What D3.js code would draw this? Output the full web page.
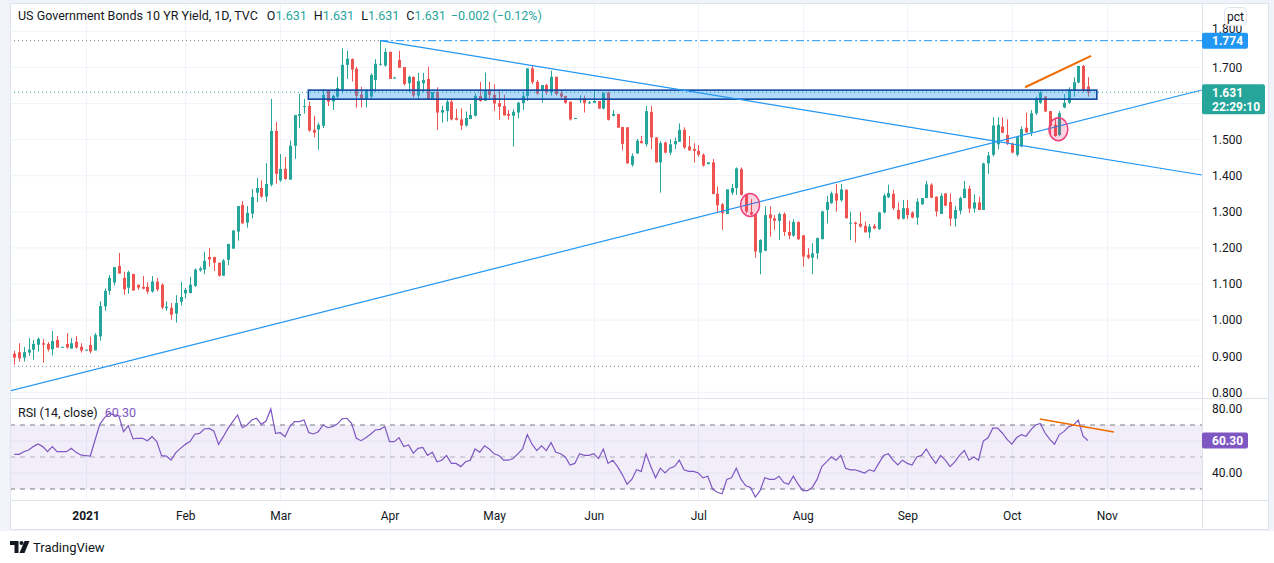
<!DOCTYPE html>
<html>
<head>
<meta charset="utf-8">
<script src="https://cdn.jsdelivr.net/npm/d3@7"></script>
<style>
  body { margin: 0; background: #fff; }
  svg { display: block; font-family: Roboto, "Open Sans", sans-serif; }
</style>
</head>
<body>
<div id="chart"></div>
<script>
// daily candles, mid Dec 2020 -> 22 Oct 2021
const opens = [
  .907,.911,.896,.910,.918,.932,.936,.934,.919,.945, .924,.934,.921,.940,.926,.917,.931,.916,.955,1.038,
  1.081,1.104,1.150,1.117,1.090,1.128,1.098,1.092,1.092,1.079, 1.107,1.098,1.033,1.034,1.018,1.051,1.074,1.075,1.095,1.138,
  1.140,1.175,1.175,1.159,1.123,1.167,1.198,1.245,1.319,1.270, 1.295,1.353,1.366,1.342,1.375,1.524,1.387,1.419,1.389,1.483,
  1.566,1.591,1.593,1.527,1.528,1.538,1.635,1.606,1.619,1.639, 1.707,1.723,1.696,1.625,1.610,1.619,1.665,1.708,1.705,1.743,
  1.670,1.721,1.701,1.656,1.674,1.622,1.656,1.668,1.613,1.632, 1.575,1.579,1.605,1.560,1.556,1.539,1.557,1.566,1.621,1.608,
  1.637,1.624,1.601,1.593,1.571,1.566,1.575,1.601,1.621,1.697, 1.660,1.637,1.651,1.631,1.674,1.628,1.621,1.605,1.558,1.609,
  1.614,1.602,1.602,1.607,1.586,1.630,1.566,1.571,1.535,1.534, 1.430,1.462,1.496,1.487,1.577,1.506,1.437,1.492,1.464,1.487,
  1.494,1.527,1.481,1.474,1.469,1.458,1.432,1.437,1.350,1.321, 1.294,1.353,1.366,1.418,1.347,1.299,1.293,1.187,1.192,1.293,
  1.282,1.275,1.294,1.244,1.234,1.272,1.235,1.181,1.173,1.185, 1.224,1.305,1.324,1.351,1.332,1.361,1.268,1.270,1.267,1.261,
  1.243,1.261,1.252,1.298,1.340,1.350,1.305,1.281,1.310,1.298, 1.284,1.321,1.338,1.375,1.342,1.294,1.351,1.327,1.281,1.303,
  1.338,1.364,1.309,1.326,1.305,1.434,1.458,1.487,1.536,1.513, 1.488,1.458,1.481,1.533,1.520,1.573,1.602,1.619,1.579,1.541,
  1.513,1.589,1.602,1.637,1.658,1.704,1.647
];
const highs = [
  .915,.936,.926,.950,.945,.952,.947,.939,.970,.956, .926,.964,.950,.956,.936,.918,.954,.964,1.052,1.087,
  1.125,1.147,1.186,1.134,1.137,1.128,1.098,1.122,1.105,1.122, 1.117,1.102,1.052,1.047,1.069,1.106,1.089,1.120,1.143,1.148,
  1.189,1.200,1.175,1.159,1.169,1.211,1.250,1.316,1.330,1.316, 1.363,1.394,1.387,1.435,1.613,1.549,1.460,1.452,1.497,1.568,
  1.627,1.613,1.605,1.566,1.547,1.640,1.638,1.624,1.674,1.753, 1.746,1.725,1.702,1.646,1.640,1.684,1.723,1.774,1.753,1.743,
  1.674,1.746,1.701,1.677,1.674,1.685,1.685,1.702,1.632,1.645, 1.594,1.613,1.613,1.585,1.587,1.578,1.599,1.628,1.660,1.686,
  1.660,1.653,1.634,1.624,1.582,1.584,1.605,1.632,1.698,1.706, 1.665,1.651,1.654,1.691,1.674,1.635,1.621,1.605,1.560,1.623,
  1.622,1.607,1.639,1.607,1.630,1.633,1.582,1.571,1.535,1.534, 1.462,1.502,1.510,1.593,1.593,1.506,1.496,1.494,1.501,1.506,
  1.545,1.534,1.510,1.490,1.485,1.462,1.437,1.446,1.370,1.324, 1.362,1.377,1.423,1.423,1.350,1.335,1.293,1.224,1.315,1.315,
  1.291,1.298,1.298,1.275,1.279,1.273,1.235,1.199,1.213,1.229, 1.303,1.344,1.356,1.377,1.377,1.362,1.300,1.273,1.300,1.273,
  1.266,1.266,1.300,1.350,1.375,1.361,1.326,1.333,1.333,1.301, 1.337,1.338,1.386,1.379,1.342,1.351,1.351,1.351,1.316,1.342,
  1.386,1.372,1.349,1.342,1.436,1.466,1.562,1.562,1.562,1.556, 1.492,1.508,1.536,1.575,1.582,1.619,1.635,1.621,1.579,1.559,
  1.579,1.626,1.645,1.673,1.704,1.707,1.673
];
const lows = [
  .876,.885,.885,.901,.890,.913,.882,.913,.902,.924, .924,.921,.921,.921,.910,.916,.908,.916,.943,1.026,
  1.070,1.096,1.129,1.070,1.073,1.082,1.084,1.085,1.073,1.076, 1.080,1.030,1.026,1.001,.993,1.040,1.060,1.074,1.092,1.134,
  1.127,1.148,1.136,1.120,1.123,1.152,1.198,1.220,1.267,1.256, 1.282,1.327,1.339,1.328,1.370,1.378,1.383,1.389,1.389,1.447,
  1.532,1.572,1.522,1.506,1.472,1.532,1.593,1.582,1.614,1.628, 1.668,1.661,1.589,1.589,1.589,1.614,1.632,1.705,1.702,1.668,
  1.669,1.699,1.650,1.631,1.616,1.614,1.631,1.613,1.613,1.527, 1.547,1.550,1.553,1.553,1.527,1.536,1.557,1.564,1.605,1.607,
  1.613,1.579,1.555,1.567,1.555,1.481,1.559,1.582,1.607,1.654, 1.624,1.602,1.624,1.622,1.622,1.614,1.599,1.553,1.557,1.601,
  1.575,1.599,1.601,1.586,1.584,1.553,1.564,1.533,1.470,1.434, 1.425,1.460,1.490,1.481,1.473,1.436,1.353,1.462,1.457,1.474,
  1.494,1.474,1.470,1.436,1.453,1.425,1.432,1.349,1.296,1.250, 1.293,1.347,1.347,1.345,1.296,1.290,1.173,1.127,1.192,1.231,
  1.250,1.222,1.233,1.224,1.231,1.222,1.148,1.169,1.127,1.169, 1.224,1.268,1.322,1.301,1.328,1.282,1.222,1.215,1.256,1.243,
  1.227,1.252,1.250,1.296,1.338,1.305,1.278,1.279,1.280,1.282, 1.264,1.319,1.338,1.338,1.287,1.294,1.316,1.261,1.259,1.293,
  1.338,1.296,1.298,1.305,1.305,1.405,1.453,1.473,1.518,1.485, 1.462,1.453,1.479,1.518,1.510,1.568,1.599,1.576,1.508,1.508,
  1.510,1.587,1.599,1.619,1.656,1.631,1.619
];
const closes = [
  .896,.894,.911,.918,.934,.948,.932,.919,.942,.924, .926,.924,.936,.924,.916,.918,.913,.959,1.039,1.081,
  1.117,1.147,1.129,1.085,1.133,1.082,1.090,1.087,1.079,1.107, 1.085,1.035,1.037,1.015,1.047,1.064,1.084,1.098,1.140,1.143,
  1.164,1.168,1.159,1.123,1.165,1.211,1.248,1.316,1.268,1.297, 1.341,1.366,1.342,1.377,1.524,1.405,1.419,1.391,1.483,1.568,
  1.571,1.593,1.525,1.519,1.541,1.624,1.605,1.621,1.643,1.707, 1.724,1.694,1.621,1.614,1.637,1.679,1.710,1.710,1.743,1.668,
  1.672,1.699,1.654,1.674,1.622,1.662,1.665,1.613,1.632,1.575, 1.582,1.605,1.556,1.555,1.539,1.560,1.568,1.621,1.607,1.637,
  1.624,1.600,1.591,1.567,1.566,1.577,1.602,1.621,1.697,1.659, 1.628,1.651,1.631,1.674,1.626,1.619,1.602,1.556,1.560,1.612,
  1.601,1.603,1.607,1.586,1.630,1.555,1.571,1.533,1.488,1.434, 1.455,1.497,1.490,1.579,1.506,1.437,1.490,1.464,1.487,1.496,
  1.527,1.478,1.470,1.469,1.458,1.428,1.437,1.349,1.318,1.296, 1.362,1.366,1.420,1.347,1.301,1.293,1.190,1.222,1.291,1.282,
  1.275,1.294,1.244,1.234,1.272,1.224,1.176,1.173,1.185,1.227, 1.301,1.327,1.351,1.331,1.362,1.282,1.270,1.266,1.259,1.243,
  1.259,1.254,1.298,1.345,1.352,1.310,1.281,1.310,1.291,1.284, 1.328,1.338,1.376,1.339,1.301,1.344,1.317,1.281,1.305,1.338,
  1.364,1.309,1.326,1.305,1.434,1.456,1.539,1.541,1.519,1.490, 1.464,1.507,1.529,1.520,1.573,1.614,1.630,1.578,1.538,1.510,
  1.573,1.602,1.639,1.659,1.704,1.635,1.631
];
const rsi = [
  51.7,51.7,53.3,54.4,56.5,58.1,56.5,53.3,56.5,53.3, 53.3,53.3,55.4,52.9,51.3,50.8,50.6,60.6,70.4,74.6,
  77.3,76.3,75.8,65.8,69.6,61.3,61.7,61.7,60.2,62.7, 59.6,50.8,50.6,48.1,52.7,55.4,57.9,59.6,64.2,64.8,
  67.5,67.9,66.3,57.9,62.7,67.9,72.1,76.3,68.3,70.0, 73.1,74.2,70.4,72.5,80.0,64.8,65.2,62.7,69.0,72.1,
  72.1,73.1,65.2,64.4,65.8,70.0,68.3,69.0,70.6,73.8, 74.2,71.0,61.7,60.2,62.1,64.2,66.9,67.3,69.0,59.6,
  59.6,62.1,56.5,57.5,52.3,55.4,56,51,53,47, 48,51,46,46,44,47,48,55,53,57,
  55,52,51,48,48,49,52,55,64,58, 54,57,54,59,53,52,50,45,46,52,
  51,51,52,49,55,46,48,44,39,33, 36,42,41,52,44,37,43,40,43,44,
  48,42,41,41,40,37,38,30,28,27, 36,37,43,36,32,31,25,29,37,36,
  36,38,34,33,38,33,29,29,31,36, 44,47,50,48,51,43,42,42,41,40,
  42,41,46,51,52,48,45,48,46,45, 50,51,55,50,46,51,48,44,47,51,
  54,48,50,48,60,62,68,68,65,61, 58,62,64,63,67,70,71,65,61,58,
  64,66,69,70,73,63,60.3
];

const monthLabels = ["2021", "Feb", "Mar", "Apr", "May", "Jun", "Jul", "Aug", "Sep", "Oct", "Nov"];
const monthIdx = [15, 36, 56, 79, 101, 122, 144, 166, 188, 210, 230];
const priceTicks = [0.8, 0.9, 1.0, 1.1, 1.2, 1.3, 1.4, 1.5, 1.6, 1.7, 1.8];
// 1.600 sits under the last-price tag, so it gets no label
const priceLabels = [0.8, 0.9, 1.0, 1.1, 1.2, 1.3, 1.4, 1.5, 1.7, 1.8];
const rsiTicks = [40, 80];
const rsiGrid = [20, 40, 60, 80];

// drawings on the chart: [index, value]
const highLevel = 1.774, highIdx = 77;
const lowLevel = 0.872;
const lastPrice = 1.631;
const downTrend = [[77, 1.774], [250, 1.402]];
const upTrend = [[-1, 0.8036], [250, 1.6374]];
const zone = {i0: 61.9, i1: 227.9, top: 1.637, bottom: 1.612};
const orangePrice = [[212.8, 1.645], [226.7, 1.732]];
const orangeRsi = [[215.9, 73.8], [231.5, 65.6]];
const circles = [[154.9, 1.319], [219.8, 1.529]];

const W = 1274, H = 563;
const paneL = 10, paneR = 1202, axisR = 1268;
const mainT = 3, mainB = 398, rsiT = 399, rsiB = 500, timeB = 529;

const x = d3.scaleLinear().domain([0, 226]).range([14.3, 1087.8]);
const y = d3.scaleLinear().domain([0.8, 1.8]).range([392.3, 31.3]);
const yr = d3.scaleLinear().domain([30, 80]).range([489, 409]);

const up = "#26a69a", down = "#ef5350", blue = "#2196f3", purple = "#7e57c2", orange = "#ef6c00";
const text = "#131722", grid = "#f0f3fa", border = "#e0e3eb";

const svg = d3.select("#chart").append("svg").attr("width", W).attr("height", H);

// frame
svg.append("rect").attr("width", W).attr("height", timeB + 2).attr("fill", grid);
svg.append("rect").attr("x", paneL).attr("y", mainT).attr("width", axisR - paneL).attr("height", timeB - mainT)
  .attr("fill", "#fff");

const defs = svg.append("defs");
defs.append("clipPath").attr("id", "clipMain").append("rect")
  .attr("x", paneL).attr("y", mainT).attr("width", paneR - paneL).attr("height", mainB - mainT);
defs.append("clipPath").attr("id", "clipRsi").append("rect")
  .attr("x", paneL).attr("y", rsiT).attr("width", paneR - paneL).attr("height", rsiB - rsiT);

const main = svg.append("g").attr("clip-path", "url(#clipMain)");
const low = svg.append("g").attr("clip-path", "url(#clipRsi)");

// grid
main.selectAll(".hg").data(priceTicks).join("line")
  .attr("x1", paneL).attr("x2", paneR).attr("y1", d => y(d)).attr("y2", d => y(d))
  .attr("stroke", grid);
low.selectAll(".hg").data(rsiGrid).join("line")
  .attr("x1", paneL).attr("x2", paneR).attr("y1", d => yr(d)).attr("y2", d => yr(d))
  .attr("stroke", grid);
[main, low].forEach(g => g.selectAll(".vg").data(monthIdx).join("line")
  .attr("x1", d => Math.round(x(d)) + 0.5).attr("x2", d => Math.round(x(d)) + 0.5)
  .attr("y1", mainT).attr("y2", rsiB).attr("stroke", grid));

// level lines
main.append("line").attr("x1", paneL).attr("x2", paneR).attr("y1", y(lowLevel)).attr("y2", y(lowLevel))
  .attr("stroke", "#787b86").attr("stroke-dasharray", "1,3");
main.append("line").attr("x1", paneL).attr("x2", x(highIdx)).attr("y1", y(highLevel)).attr("y2", y(highLevel))
  .attr("stroke", "#787b86").attr("stroke-dasharray", "1,3");
main.append("line").attr("x1", x(highIdx)).attr("x2", paneR).attr("y1", y(highLevel)).attr("y2", y(highLevel))
  .attr("stroke", blue).attr("stroke-dasharray", "8,3,2,3");
main.append("line").attr("x1", paneL).attr("x2", paneR).attr("y1", y(lastPrice)).attr("y2", y(lastPrice))
  .attr("stroke", up).attr("stroke-dasharray", "1,3");

// candles
const idx = d3.range(closes.length);
main.selectAll(".wick").data(idx).join("line")
  .attr("x1", i => Math.round(x(i)) + 0.5).attr("x2", i => Math.round(x(i)) + 0.5)
  .attr("y1", i => y(highs[i])).attr("y2", i => y(lows[i]))
  .attr("stroke", i => closes[i] >= opens[i] ? up : down);
main.selectAll(".body").data(idx).join("rect")
  .attr("x", i => Math.round(x(i)) - 1).attr("width", 3)
  .attr("y", i => y(Math.max(opens[i], closes[i])))
  .attr("height", i => Math.max(1, Math.abs(y(opens[i]) - y(closes[i]))))
  .attr("fill", i => closes[i] >= opens[i] ? up : down);

// zone
main.append("rect")
  .attr("x", x(zone.i0)).attr("width", x(zone.i1) - x(zone.i0))
  .attr("y", y(zone.top)).attr("height", y(zone.bottom) - y(zone.top))
  .attr("fill", "rgba(33,150,243,0.35)").attr("stroke", "#0d47a1").attr("stroke-width", 1.6);

// trend lines
const seg = (sc) => d3.line().x(d => x(d[0])).y(d => sc(d[1]));
main.append("path").attr("d", seg(y)(downTrend)).attr("stroke", blue).attr("fill", "none").attr("stroke-width", 1.2);
main.append("path").attr("d", seg(y)(upTrend)).attr("stroke", blue).attr("fill", "none").attr("stroke-width", 1.2);
main.append("path").attr("d", seg(y)(orangePrice)).attr("stroke", orange).attr("fill", "none").attr("stroke-width", 2);

main.selectAll(".circ").data(circles).join("ellipse")
  .attr("cx", d => x(d[0])).attr("cy", d => y(d[1])).attr("rx", 9.5).attr("ry", 11.5)
  .attr("fill", "rgba(233,30,99,0.2)").attr("stroke", "#ec407a").attr("stroke-width", 1.5);

// rsi pane
low.append("rect").attr("x", paneL).attr("width", paneR - paneL)
  .attr("y", yr(70)).attr("height", yr(30) - yr(70)).attr("fill", "rgba(126,87,194,0.1)");
low.selectAll(".band").data([70, 30]).join("line")
  .attr("x1", paneL).attr("x2", paneR).attr("y1", d => yr(d)).attr("y2", d => yr(d))
  .attr("stroke", "#787b86").attr("stroke-dasharray", "5,5");
low.append("line").attr("x1", paneL).attr("x2", paneR).attr("y1", yr(50)).attr("y2", yr(50))
  .attr("stroke", "rgba(120,123,134,0.55)").attr("stroke-dasharray", "5,5");
low.append("path").datum(idx).attr("d", d3.line().x(i => x(i)).y(i => yr(rsi[i])))
  .attr("fill", "none").attr("stroke", purple).attr("stroke-width", 1.2);
low.append("path").attr("d", seg(yr)(orangeRsi)).attr("stroke", orange).attr("fill", "none").attr("stroke-width", 1.6);

// separators
svg.append("line").attr("x1", paneR + 0.5).attr("x2", paneR + 0.5).attr("y1", mainT).attr("y2", timeB).attr("stroke", border);
svg.append("line").attr("x1", paneL).attr("x2", axisR).attr("y1", mainB + 0.5).attr("y2", mainB + 0.5).attr("stroke", border);
svg.append("line").attr("x1", paneL).attr("x2", axisR).attr("y1", rsiB + 0.5).attr("y2", rsiB + 0.5).attr("stroke", border);
svg.append("rect").attr("x", paneL + 0.5).attr("y", mainT + 0.5).attr("width", axisR - paneL).attr("height", timeB - mainT)
  .attr("fill", "none").attr("stroke", border);

// axes
const yAxis = svg.append("g").attr("transform", `translate(${paneR},0)`)
  .call(d3.axisRight(y).tickValues(priceLabels).tickFormat(d3.format(".3f")).tickSize(0).tickPadding(10));
const rAxis = svg.append("g").attr("transform", `translate(${paneR},0)`)
  .call(d3.axisRight(yr).tickValues(rsiTicks).tickFormat(d3.format(".2f")).tickSize(0).tickPadding(10));
const xAxis = svg.append("g").attr("transform", `translate(0,${rsiB})`)
  .call(d3.axisBottom(x).tickValues(monthIdx).tickFormat((d, i) => monthLabels[i]).tickSize(0).tickPadding(11));
[yAxis, rAxis, xAxis].forEach(a => {
  a.select(".domain").remove();
  a.selectAll("text").attr("fill", text).attr("font-size", 12).attr("font-family", "Roboto, sans-serif");
});
xAxis.selectAll("text").filter((d, i) => i === 0).attr("font-weight", "bold");
// 1.800 peeks out above the 1.774 tag
yAxis.selectAll("text").filter(d => d === 1.8).attr("dy", "0.1em");

// price labels
svg.append("rect").attr("x", 1224.5).attr("y", 7.5).attr("width", 22).attr("height", 18).attr("rx", 4)
  .attr("fill", "#fff").attr("stroke", border);
svg.append("text").attr("x", 1235.5).attr("y", 20.5).attr("text-anchor", "middle")
  .attr("font-size", 12).attr("fill", text).text("pct");

function tag(v, sc, color, lines, w) {
  const h = lines.length > 1 ? 30 : 16;
  const cy = sc(v);
  svg.append("rect").attr("x", paneR).attr("y", cy - 8).attr("width", w).attr("height", h).attr("rx", 2).attr("fill", color);
  lines.forEach((t, k) => svg.append("text").attr("x", paneR + 10).attr("y", cy + 4.5 + k * 14.5)
    .attr("font-size", 12).attr("font-weight", "bold").attr("fill", "#fff").text(t));
}
tag(highLevel, y, blue, [d3.format(".3f")(highLevel)], 46);
tag(lastPrice, y, up, [d3.format(".3f")(lastPrice), "22:29:10"], 63);
tag(rsi[rsi.length - 1], yr, purple, [d3.format(".2f")(rsi[rsi.length - 1])], 46);

// header
const hdr = svg.append("text").attr("x", 18).attr("y", 20).attr("font-size", 12.5).attr("fill", text);
hdr.append("tspan").text("US Government Bonds 10 YR Yield, 1D, TVC");
[["O", "1.631"], ["H", "1.631"], ["L", "1.631"], ["C", "1.631"]].forEach((p, k) => {
  hdr.append("tspan").attr("dx", k === 0 ? 9 : 7).text(p[0]);
  hdr.append("tspan").attr("fill", up).text(p[1]);
});
hdr.append("tspan").attr("dx", 5).attr("fill", up).text("\u22120.002 (\u22120.12%)");

const rl = svg.append("text").attr("x", 18).attr("y", 417).attr("font-size", 12.5).attr("fill", text);
rl.append("tspan").text("RSI (14, close)");
rl.append("tspan").attr("dx", 7).attr("fill", purple).text(d3.format(".2f")(rsi[rsi.length - 1]));

// TradingView mark
const logo = svg.append("g").attr("fill", text);
logo.append("path").attr("d", "M10,541 H18.5 V553 H14.5 V545 H10 Z");
logo.append("circle").attr("cx", 21.5).attr("cy", 543).attr("r", 2);
logo.append("path").attr("d", "M24.5,541 H29.5 L24.5,553 H19.5 Z");
svg.append("text").attr("x", 33).attr("y", 552).attr("font-size", 13).attr("fill", text).text("TradingView");
</script>
</body>
</html>
